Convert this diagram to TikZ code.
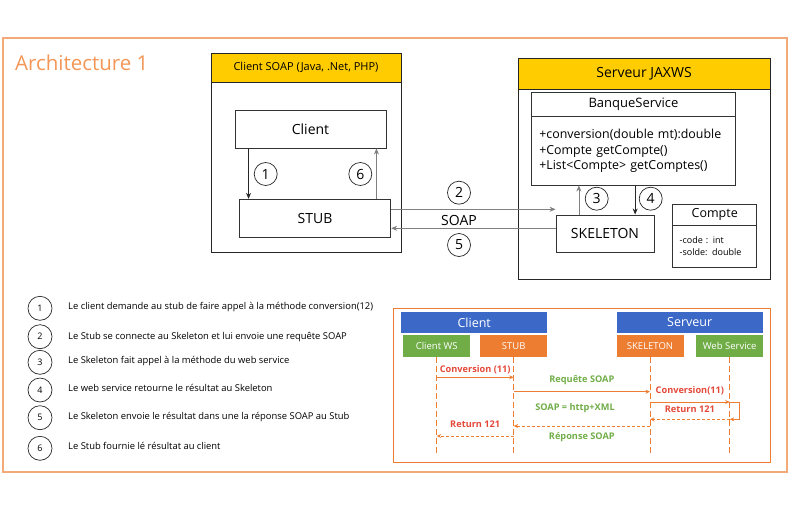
\documentclass[tikz,border=0pt]{standalone}
\usepackage{fontspec}
\setmainfont{Open Sans}
\definecolor{archorange}{RGB}{243,150,86}
\definecolor{framepeach}{RGB}{244,170,120}
\definecolor{headyellow}{RGB}{255,204,0}
\definecolor{seqblue}{RGB}{60,105,200}
\definecolor{seqgreen}{RGB}{112,173,71}
\definecolor{seqorange}{RGB}{237,125,49}
\definecolor{msgred}{RGB}{228,72,56}
\definecolor{msggreen}{RGB}{112,173,71}
\usetikzlibrary{arrows.meta,positioning,calc}

\tikzset{
  container/.style={draw=black!85, fill=white, line width=1pt, inner sep=0pt},
  header/.style={draw=black!85, fill=headyellow, line width=1pt, inner sep=0pt},
  box/.style={draw=black!80, fill=white, line width=0.9pt, inner sep=0pt},
  num/.style={circle, draw=black!85, line width=0.7pt, minimum size=23pt, inner sep=0pt, font=\fontsize{14}{14}\selectfont},
  legnum/.style={circle, draw=black!85, line width=0.7pt, minimum size=24pt, inner sep=0pt, font=\fontsize{9}{9}\selectfont},
  legtext/.style={anchor=west, inner sep=0pt, font=\fontsize{9.4}{11}\selectfont},
  flow/.style={-{Stealth[length=6pt,width=5pt]}, black!85, line width=0.7pt},
  flowgray/.style={-{Stealth[length=6pt,width=5pt]}, black!50, line width=0.7pt},
  lane/.style={fill=seqblue, text=white, minimum width=146pt, minimum height=21.6pt, inner sep=0pt, font=\fontsize{12.5}{12.5}\selectfont},
  actor/.style={text=white, minimum width=67pt, minimum height=21.7pt, inner sep=0pt, font=\fontsize{9.5}{9.5}\selectfont},
  lifeline/.style={seqorange, line width=0.9pt, dash pattern=on 6pt off 3pt},
  msg/.style={seqorange, line width=1pt, -{Stealth[length=4.5pt,width=4pt]}},
  reply/.style={msg, dash pattern=on 3pt off 2pt},
  redlabel/.style={text=msgred, inner sep=0pt, text height=7pt, text depth=2pt, font=\bfseries\fontsize{9.2}{9.2}\selectfont},
  greenlabel/.style={text=msggreen, inner sep=0pt, text height=7pt, text depth=2pt, font=\bfseries\fontsize{9.2}{9.2}\selectfont}
}

\begin{document}
\begin{tikzpicture}[x=1pt, y=-1pt]
  \useasboundingbox (0,0) rectangle (794,514);

  % Frame and title
  \draw[framepeach, line width=1.2pt] (3,38) rectangle (787,472);
  \node[anchor=base west, inner sep=0pt, text=archorange, font=\fontsize{20.5}{20.5}\selectfont] (title) at (15,70) {Architecture 1};

  % Client SOAP
  \node[container, minimum width=190pt, minimum height=199pt] (clientbox) at (306,152.5) {};
  \node[header, minimum width=190pt, minimum height=29pt, font=\fontsize{11}{11}\selectfont] (clienthead) at (306,67.5) {Client SOAP (Java, .Net, PHP)};
  \node[box, minimum width=151pt, minimum height=38pt, font=\fontsize{14}{14}\selectfont] (client) at (310.5,129) {Client};
  \node[box, minimum width=151.4pt, minimum height=38pt, font=\fontsize{14}{14}\selectfont] (stub) at (315,218.3) {STUB};

  % Serveur JAXWS
  \node[container, minimum width=252pt, minimum height=221pt] (serverbox) at (644,168.5) {};
  \node[header, minimum width=252pt, minimum height=31pt, font=\fontsize{14}{14}\selectfont] (serverhead) at (644,73.5) {Serveur JAXWS};
  \node[box, minimum width=203.6pt, minimum height=24pt, font=\fontsize{13}{13}\selectfont] (banque) at (633.5,104.7) {BanqueService};
  \node[box, minimum width=203.6pt, minimum height=68.3pt, inner xsep=7.6pt, text width=188.4pt, align=left, font=\fontsize{12.4}{15.3}\selectfont] (banqueops) at (633.5,150.85) {+conversion(double mt):double\\+Compte getCompte()\\+List<Compte> getComptes()};
  \node[box, minimum width=98pt, minimum height=37.7pt, font=\fontsize{14}{14}\selectfont] (skeleton) at (605,233.8) {SKELETON};
  \node[box, minimum width=84pt, minimum height=20.7pt, font=\fontsize{12.5}{12.5}\selectfont] (compte) at (714.7,214.7) {Compte};
  \node[box, minimum width=84pt, minimum height=42.3pt, inner xsep=7pt, text width=70pt, align=left, font=\fontsize{9}{11.3}\selectfont] (compteattr) at (714.7,246.2) {-code : int\\-solde: double};

  % Calls between the boxes
  \coordinate (callone) at ([xshift=14pt]client.south west);
  \coordinate (callsix) at ([xshift=-10pt]client.south east);
  \coordinate (calltwo) at ([yshift=9pt]stub.east);
  \coordinate (callfive) at ([yshift=5.5pt]skeleton.west);
  \coordinate (callthree) at ([xshift=23.3pt]skeleton.north west);
  \coordinate (callfour) at ([xshift=-19.3pt]skeleton.north east);
  \draw[flow] (callone) -- (callone |- stub.north);
  \draw[flowgray] (callsix |- stub.north) -- (callsix);
  \draw[flowgray] (calltwo) -- (calltwo -| skeleton.west);
  \draw[flowgray] (callfive) -- (callfive -| stub.east);
  \draw[flowgray] (callthree) -- (callthree |- banqueops.south);
  \draw[flow] (callfour |- banqueops.south) -- (callfour);

  % Step numbers
  \node[num] (n1) at (265.7,174) {1};
  \node[num] (n6) at (360.3,174) {6};
  \node[num] (n2) at (459,192.7) {2};
  \node[font=\fontsize{14}{14}\selectfont, inner sep=0pt] (soap) at (459,220) {SOAP};
  \node[num] (n5) at (459,245) {5};
  \node[num] (n3) at (596.7,198.7) {3};
  \node[num] (n4) at (650.7,198.7) {4};

  % Legend
  \node[legnum] (leg1) at (40,308.3) {1};
  \node[legtext] (legtext1) at (68,306.7) {Le client demande au stub de faire appel à la méthode conversion(12)};
  \node[legnum] (leg2) at (40,336.7) {2};
  \node[legtext] (legtext2) at (68,336.7) {Le Stub se connecte au Skeleton et lui envoie une requête SOAP};
  \node[legnum] (leg3) at (40,362.3) {3};
  \node[legtext] (legtext3) at (68,361) {Le Skeleton fait appel à la méthode du web service};
  \node[legnum] (leg4) at (40,390) {4};
  \node[legtext] (legtext4) at (68,388.3) {Le web service retourne le résultat au Skeleton};
  \node[legnum] (leg5) at (40,417.7) {5};
  \node[legtext] (legtext5) at (68,416.7) {Le Skeleton envoie le résultat dans une la réponse SOAP au Stub};
  \node[legnum] (leg6) at (40,448.3) {6};
  \node[legtext] (legtext6) at (68,445.7) {Le Stub fournie lé résultat au client};

  % Sequence diagram
  \draw[seqorange, line width=1pt] (393.3,308.3) rectangle (770,462.7);
  \node[lane] (clientlane) at (474.2,322.5) {Client};
  \node[lane] (serverlane) at (689.7,322.5) {Serveur};
  \node[actor, fill=seqgreen] (clientws) at (436.7,345.9) {Client WS};
  \node[actor, fill=seqorange] (stubactor) at (513.7,345.9) {STUB};
  \node[actor, fill=seqorange] (skelactor) at (650,345.9) {SKELETON};
  \node[actor, fill=seqgreen] (wsactor) at (729.7,345.9) {Web Service};

  \coordinate (lifeend) at (0,455);
  \coordinate (row1) at (0,377.3);
  \coordinate (row2) at (0,391.7);
  \coordinate (row3) at (0,402);
  \coordinate (row4) at (0,419.3);
  \coordinate (row5) at (0,426);
  \coordinate (row6) at (0,436);
  \coordinate (loopx) at (739.3,0);

  \draw[lifeline] (clientws.south) -- (clientws.south |- lifeend);
  \draw[lifeline] (stubactor.south) -- (stubactor.south |- lifeend);
  \draw[lifeline] (skelactor.south) -- (skelactor.south |- lifeend);
  \draw[lifeline] (wsactor.south) -- (wsactor.south |- lifeend);

  \draw[msg] (clientws |- row1) -- node[redlabel, above=2.8pt] {Conversion (11)} (stubactor |- row1);
  \draw[msg] (stubactor |- row2) -- node[greenlabel, above=6.5pt] {Requête SOAP} (skelactor |- row2);
  \draw[msg] (skelactor |- row3) -- node[redlabel, above=5.8pt] {Conversion(11)} (wsactor |- row3);
  \draw[msg] (wsactor |- row3) -- (loopx |- row3) -- (loopx |- row4) -- (wsactor |- row4);
  \draw[reply] (wsactor |- row4) -- node[redlabel, above=4.1pt] {Return 121} (skelactor |- row4);
  \node[greenlabel] (soapxml) at (575,407.7) {SOAP = http+XML};
  \draw[reply] (skelactor |- row5) -- node[greenlabel, below=5.5pt] {Réponse SOAP} (stubactor |- row5);
  \draw[reply] (stubactor |- row6) -- node[redlabel, above=6.5pt] {Return 121} (clientws |- row6);
\end{tikzpicture}
\end{document}
